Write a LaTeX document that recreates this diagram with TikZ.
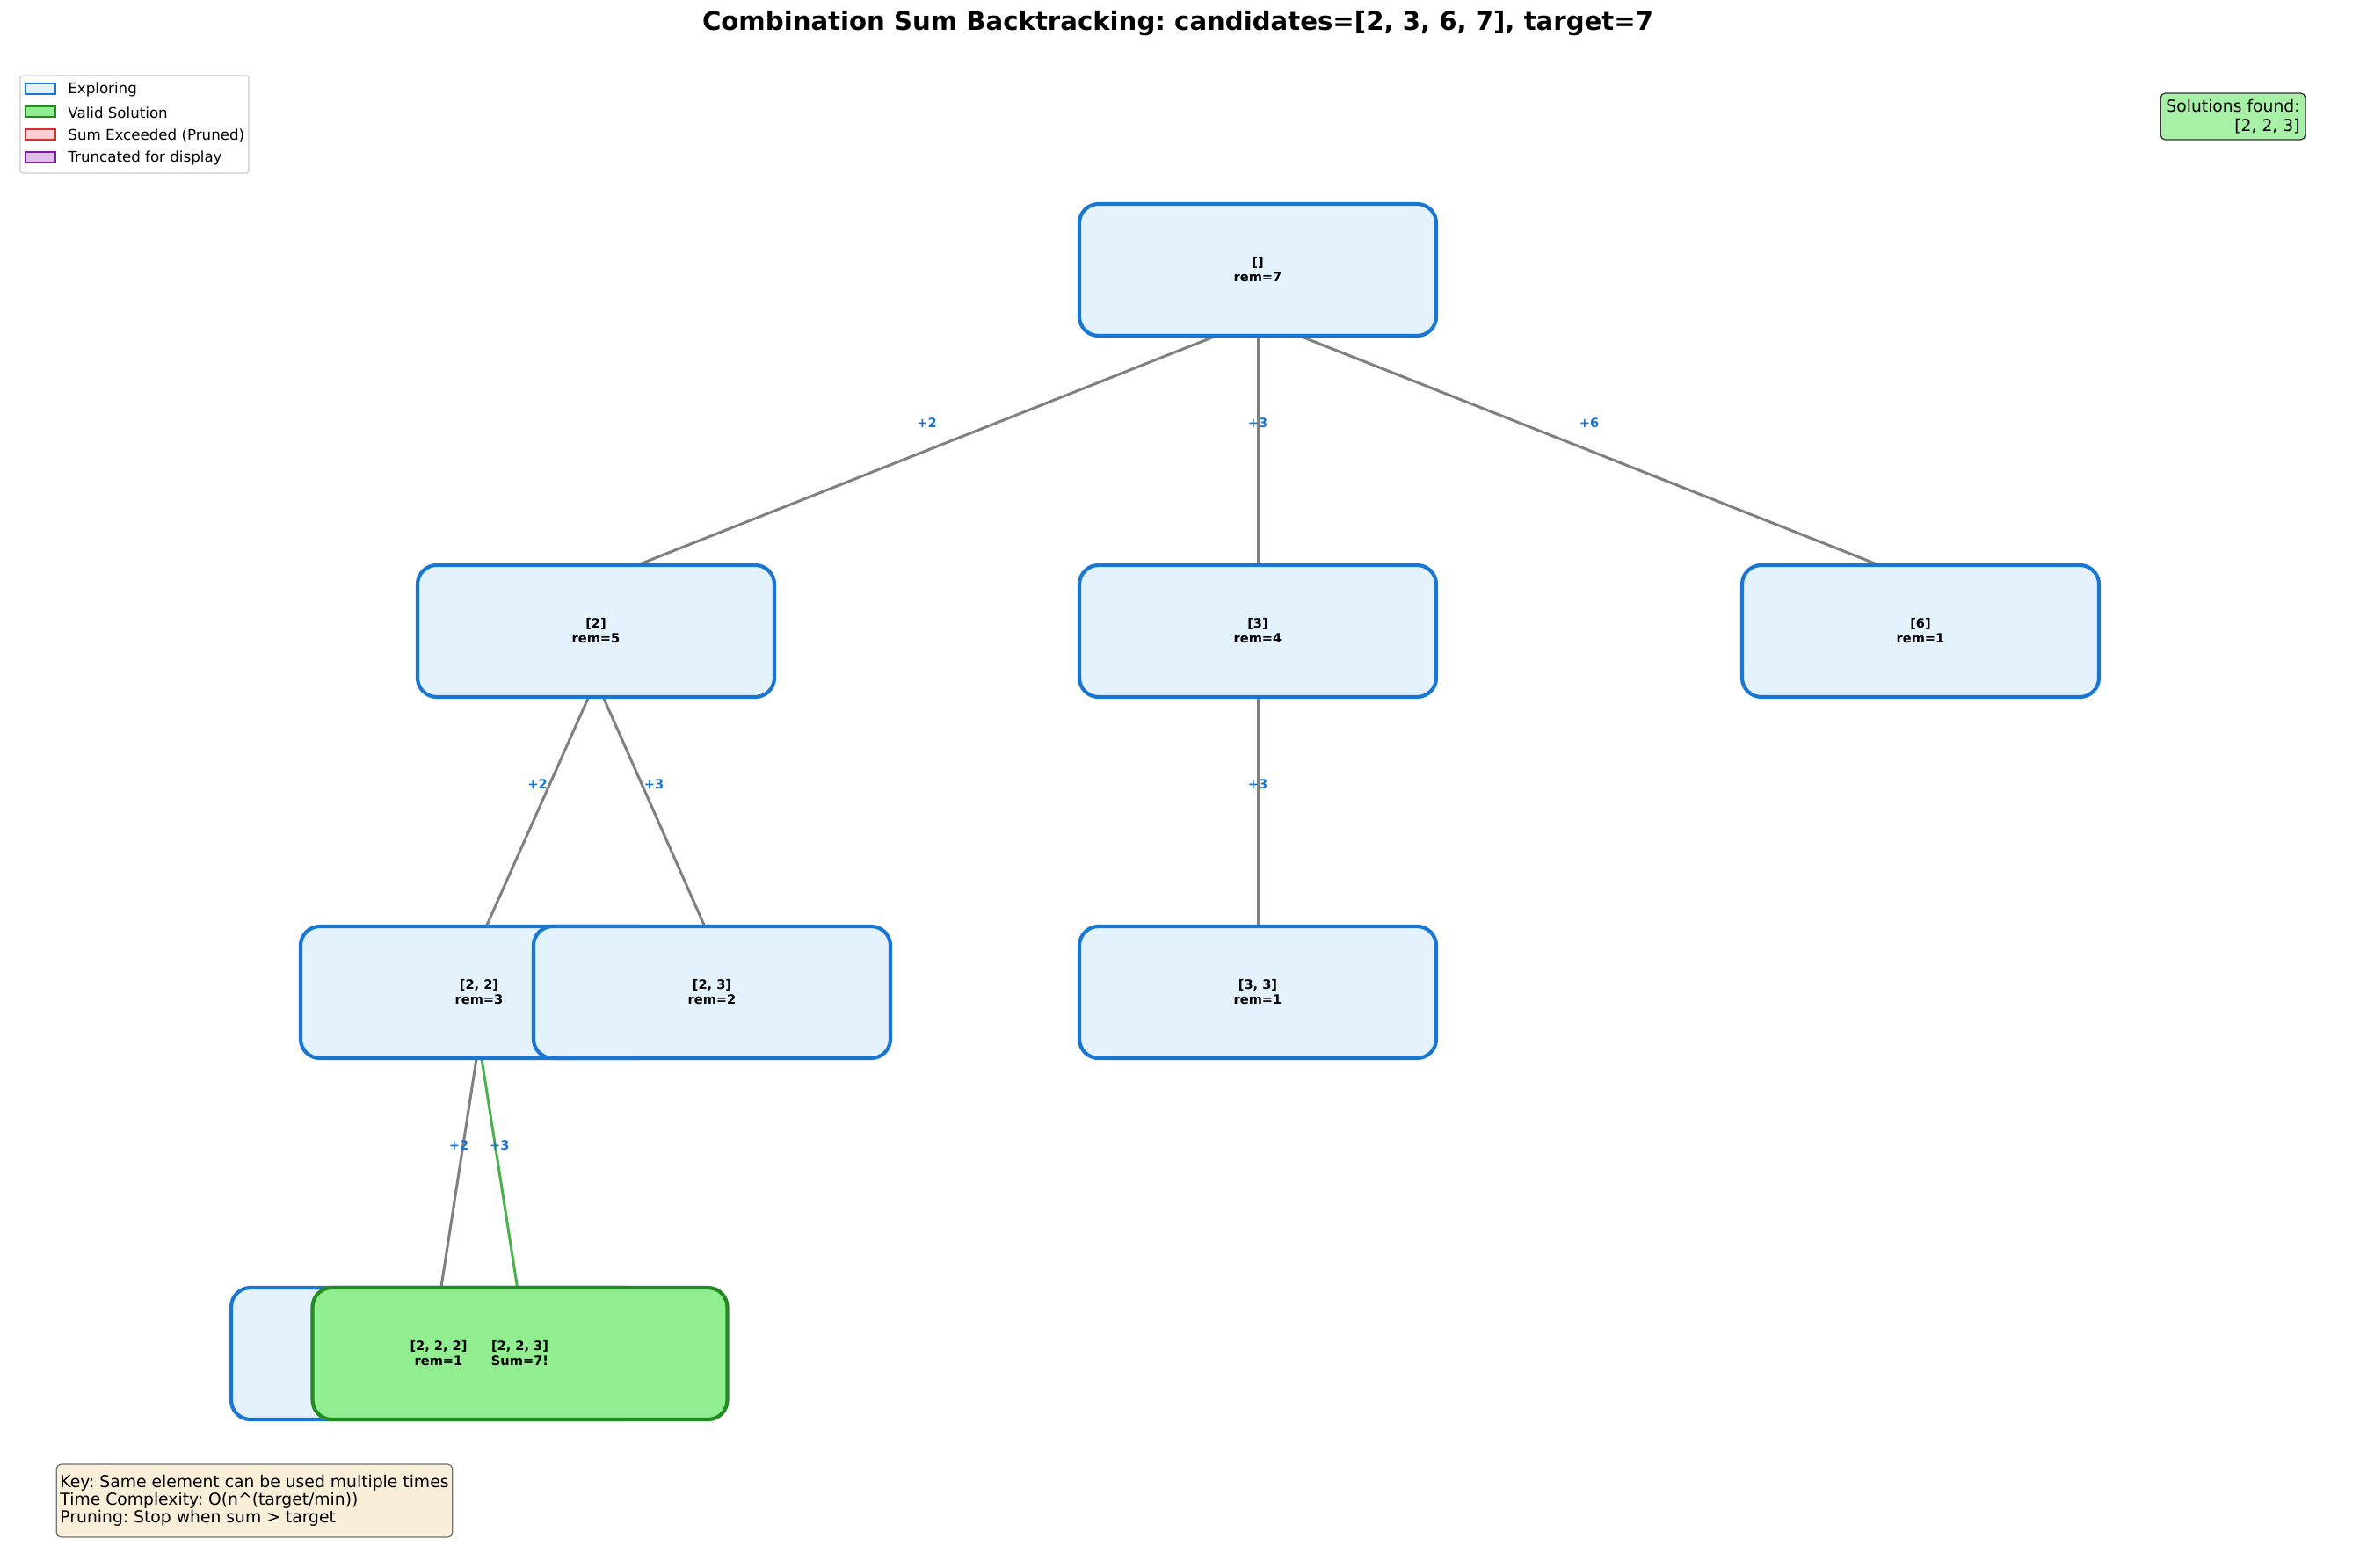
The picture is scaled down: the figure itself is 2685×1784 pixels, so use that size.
\documentclass[tikz,border=0pt]{standalone}
\usepackage{fontspec}
\setmainfont{DejaVu Sans}
\frenchspacing
\usetikzlibrary{calc}
\pgfdeclarelayer{bg}
\pgfsetlayers{bg,main}
\definecolor{expfill}{HTML}{E3F2FD}
\definecolor{expedge}{HTML}{1976D2}
\definecolor{valfill}{HTML}{90EE90}
\definecolor{valedge}{HTML}{228B22}
\definecolor{prfill}{HTML}{FFCDD2}
\definecolor{predge}{HTML}{D32F2F}
\definecolor{trfill}{HTML}{E1BEE7}
\definecolor{tredge}{HTML}{7B1FA2}
\definecolor{edgegray}{HTML}{808080}
\definecolor{solgreen}{HTML}{4CAF50}
\definecolor{solfill}{HTML}{A6F1A6}
\definecolor{keyfill}{HTML}{FAEFD9}
\definecolor{legedge}{HTML}{CCCCCC}
\newcommand{\tedge}[4]{%
  \begin{pgfonlayer}{bg}
  \draw[#1] let \p1=(#2.center), \p2=(#3.center), \n1={(\x2-\x1)/16} in
    ($(#2.south)+({\n1*1pt},0pt)$) -- node[lbl, midway, yshift=14.9pt]{#4}
    ($(#3.north)-({\n1*1pt},0pt)$);
  \end{pgfonlayer}}
\begin{document}
\begin{tikzpicture}[x=0.48pt,y=-0.48pt,
  box/.style={rectangle, rounded corners=10.5pt, line width=2pt, minimum width=194.9pt,
    minimum height=72pt, inner sep=0pt, outer sep=0pt},
  explore/.style={box, draw=expedge, fill=expfill},
  valid/.style={draw=valedge, fill=valfill},
  txt/.style={font=\fontsize{7}{8.2}\selectfont\bfseries, align=center, inner sep=0pt},
  lbl/.style={font=\fontsize{7}{8}\selectfont\bfseries, text=expedge, inner sep=0pt},
  link/.style={draw=edgegray, line width=1.45pt},
  solink/.style={draw=solgreen, line width=1.45pt},
  legpatch/.style={line width=0.8pt, minimum width=16.3pt, minimum height=5.8pt, inner sep=0pt},
  legtxt/.style={font=\fontsize{8}{9.6}\selectfont, anchor=west, inner sep=0pt},
]
\useasboundingbox (0,0) rectangle (2685,1784);
\begin{pgfonlayer}{bg}
\fill[white] (0,0) rectangle (2685,1784);
\end{pgfonlayer}

% title
\node[font=\fontsize{14}{17}\selectfont\bfseries] (title) at (1340,27)
  {Combination Sum Backtracking: candidates=[2, 3, 6, 7], target=7};

% boxes
\node[explore] (b0) at (1431,307) {};
\node[explore] (b2) at (678,718) {};
\node[explore] (b3) at (1431,718) {};
\node[explore] (b6) at (2185,718) {};
\node[explore] (b22) at (545,1129) {};
\node[explore] (b23) at (810,1129) {};
\node[explore] (b33) at (1431,1129) {};
\node[explore, minimum width=226.5pt] (b222) at (499,1540) {};
\node[explore, valid, minimum width=226.5pt] (b223) at (591.5,1540) {};

% texts
\node[txt] (t0) at (b0) {[]\\rem=7};
\node[txt] (t2) at (b2) {[2]\\rem=5};
\node[txt] (t3) at (b3) {[3]\\rem=4};
\node[txt] (t6) at (b6) {[6]\\rem=1};
\node[txt] (t22) at (b22) {[2, 2]\\rem=3};
\node[txt] (t23) at (b23) {[2, 3]\\rem=2};
\node[txt] (t33) at (b33) {[3, 3]\\rem=1};
\node[txt] (t222) at (b222) {[2, 2, 2]\\rem=1};
\node[txt] (t223) at (b223) {[2, 2, 3]\\Sum=7!};

% edges
\tedge{link}{b0}{b2}{+2}
\tedge{link}{b0}{b3}{+3}
\tedge{link}{b0}{b6}{+6}
\tedge{link}{b2}{b22}{+2}
\tedge{link}{b2}{b23}{+3}
\tedge{link}{b3}{b33}{+3}
\tedge{link}{b22}{b222}{+2}
\tedge{solink}{b22}{b223}{+3}

% legend
\node[draw=legedge, fill=white, line width=0.6pt, rounded corners=1.5pt,
  minimum width=124.8pt, minimum height=53.3pt, inner sep=0pt] (legend) at (153,141.5) {};
\node[legpatch, draw=expedge, fill=expfill] (p1) at (46,101) {};
\node[legpatch, draw=valedge, fill=valfill] (p2) at (46,127) {};
\node[legpatch, draw=predge, fill=prfill] (p3) at (46,153) {};
\node[legpatch, draw=tredge, fill=trfill] (p4) at (46,179) {};
\node[legtxt] (l1) at (77,102) {Exploring};
\node[legtxt] (l2) at (77,128) {Valid Solution};
\node[legtxt] (l3) at (77,154) {Sum Exceeded (Pruned)};
\node[legtxt] (l4) at (77,180) {Truncated for display};

% solutions box
\node[draw=black!80, fill=solfill, line width=0.6pt, rounded corners=2.5pt,
  font=\fontsize{9}{10.5}\selectfont, align=right,
  inner xsep=3pt, minimum height=25.4pt] (sol) at (2540.5,132.5)
  {Solutions found:\\{}[2, 2, 3]};

% key box
\node[draw=black!55, fill=keyfill, line width=0.6pt, rounded corners=2.5pt,
  font=\fontsize{9}{9.6}\selectfont, align=left,
  inner xsep=2pt, minimum height=39.8pt] (key) at (289.5,1707.5)
  {Key: Same element can be used multiple times\\
   Time Complexity: O(n\textasciicircum(target/min))\\
   Pruning: Stop when sum > target};
\end{tikzpicture}
\end{document}
